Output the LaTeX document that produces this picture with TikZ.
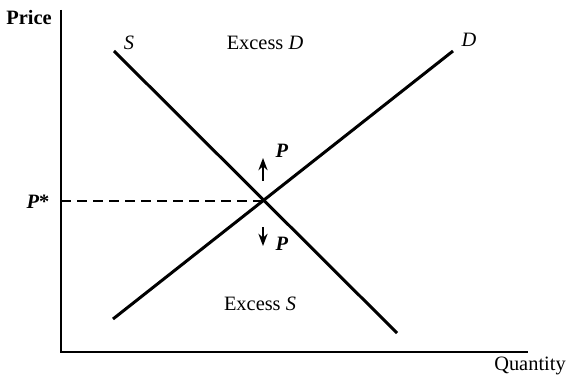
\documentclass[tikz,border=0pt]{standalone}
\usepackage{fontspec}
\setmainfont{Liberation Serif}
\usetikzlibrary{arrows.meta}

\begin{document}
\begin{tikzpicture}[>=Stealth, x=0.5pt, y=-0.5pt, font=\fontsize{10.2}{12}\selectfont]
\useasboundingbox (0,0) rectangle (572,379);
% axes
\coordinate (O) at (61,352);
\coordinate (ytop) at (61,10);
\coordinate (xend) at (528,352);
\draw[line width=1.2pt] (ytop) -- (O) -- (xend);
\node[font=\fontsize{10.2}{12}\selectfont\bfseries] (price) at (29,18) {Price};
\node (qty) at (530,366) {Quantity};
% supply and demand
\coordinate (E) at (264,201);
\coordinate (s1) at (114,51);
\coordinate (s2) at (397,333);
\coordinate (d1) at (113,319);
\coordinate (d2) at (453,51);
\draw[line width=1.5pt] (s1) -- (s2);
\draw[line width=1.5pt] (d1) -- (d2);
\node (slab) at (129,43) {\textit{S}};
\node (dlab) at (469,40) {\textit{D}};
\node (exd) at (265,43) {Excess \textit{D}};
\node (exs) at (260,304) {Excess \textit{S}};
% equilibrium price
\draw[dashed, dash pattern=on 5pt off 3pt, line width=0.7pt] (O |- E) -- (E);
\node (pstar) at (38,202) {\textbf{\textit{P}*}};
% price movements
\coordinate (up1) at (263,181);
\coordinate (up2) at (263,158);
\coordinate (dn1) at (263,227);
\coordinate (dn2) at (263,246);
\draw[->, line width=0.7pt] (up1) -- (up2);
\draw[->, line width=0.7pt] (dn1) -- (dn2);
\node (pup) at (282,151) {\textbf{\textit{P}}};
\node (pdn) at (282,244) {\textbf{\textit{P}}};
\end{tikzpicture}
\end{document}
